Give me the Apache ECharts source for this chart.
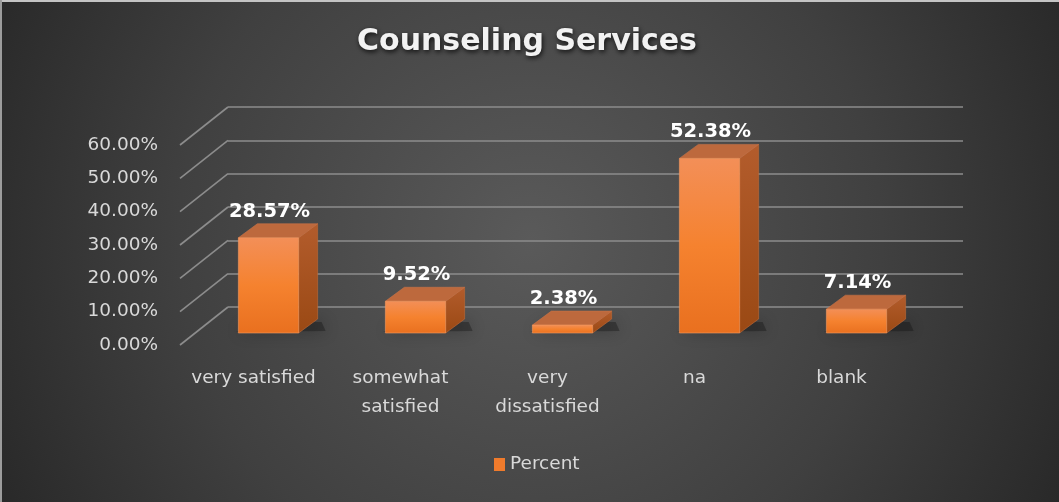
<!DOCTYPE html>
<html>
<head>
<meta charset="utf-8">
<script src="https://cdn.jsdelivr.net/npm/echarts@6/dist/echarts.min.js"></script>
<style>html,body{margin:0;padding:0;background:#2a2a2a;}#c{width:1059px;height:502px;}</style>
</head>
<body>
<div id="c"></div>
<script>
const categories = ['very satisfied', 'somewhat\nsatisfied', 'very\ndissatisfied', 'na', 'blank'];
const percentValues = [28.57, 9.52, 2.38, 52.38, 7.14];
const yTicks = [0, 10, 20, 30, 40, 50, 60];
const seriesName = 'Percent';
const titleText = 'Counseling Services';

const DX = 19, DY = -14;          // bar depth offset
const FDX = 48, FDY = -38;        // floor depth (front -> back)

const chart = echarts.init(document.getElementById('c'), null, {renderer: 'canvas'});

function lin(x0, y0, x1, y1, stops) {
  return new echarts.graphic.LinearGradient(x0, y0, x1, y1, stops);
}

function renderBar(params, api) {
  const i = api.value(0), v = api.value(1);
  const base = api.coord([i, 0]);
  const top = api.coord([i, v]);
  const band = api.size([1, 0])[0];
  const w = band * 0.41;
  const x0 = base[0] - w / 2, x1 = base[0] + w / 2, yb = base[1], yt = top[1];
  return {
    type: 'group',
    children: [
      {
        type: 'polygon',
        shape: {points: [[x0 - 2, yb - 1], [x1 + DX + 8, yb - 2], [x1 + DX + 4, yb + DY + 3], [x0 + DX, yb + DY + 3]]},
        style: {fill: 'rgba(15,15,15,0.35)', shadowBlur: 16, shadowColor: 'rgba(0,0,0,0.85)'}
      },
      {
        type: 'polygon',
        shape: {points: [[x1, yt], [x1 + DX, yt + DY], [x1 + DX, yb + DY], [x1, yb]]},
        style: {fill: lin(0, 0, 0, 1, [{offset: 0, color: '#b35c2c'}, {offset: 1, color: '#9a4914'}]), stroke: '#c06a38', lineWidth: 0.6}
      },
      {
        type: 'polygon',
        shape: {points: [[x0, yt], [x0 + DX, yt + DY], [x1 + DX, yt + DY], [x1, yt]]},
        style: {fill: '#bd693d', stroke: '#c97448', lineWidth: 0.6}
      },
      {
        type: 'rect',
        shape: {x: x0, y: yt, width: w, height: yb - yt},
        style: {fill: lin(0, 0, 0, 1, [{offset: 0, color: '#f38f58'}, {offset: 0.5, color: '#f5822f'}, {offset: 1, color: '#e9701f'}]), stroke: '#f49a62', lineWidth: 0.6}
      },
      {
        type: 'text',
        style: {
          x: base[0] + 1, y: yt + DY - 2,
          text: v.toFixed(2) + '%',
          align: 'center', verticalAlign: 'bottom',
          fill: '#ffffff',
          font: 'bold 19.5px "DejaVu Sans"'
        }
      }
    ]
  };
}

function renderDiag(params, api) {
  const v = api.value(1);
  const p = api.coord([0, v]);
  const band = api.size([1, 0])[0];
  const x = p[0] - band / 2;
  return {
    type: 'line',
    shape: {x1: x, y1: p[1], x2: x + FDX, y2: p[1] + FDY},
    style: {stroke: '#8c8c8c', lineWidth: 1.6}
  };
}

const hiddenAxis = {axisLine: {show: false}, axisTick: {show: false}, axisLabel: {show: false}, splitLine: {show: false}};

const option = {
  backgroundColor: {
    type: 'radial', x: 530, y: 240, r: 640, global: true,
    colorStops: [{offset: 0, color: '#5a5a5a'}, {offset: 0.55, color: '#404040'}, {offset: 1, color: '#242424'}]
  },
  animation: false,
  title: {
    text: titleText,
    left: 522, top: 22, textAlign: 'center',
    textStyle: {
      color: '#f2f2f2', fontFamily: 'DejaVu Sans', fontWeight: 'bold', fontSize: 30,
      textShadowColor: 'rgba(0,0,0,0.8)', textShadowBlur: 5, textShadowOffsetX: 1, textShadowOffsetY: 2
    }
  },
  legend: {
    left: 489, top: 450,
    itemWidth: 11, itemHeight: 13, itemGap: 6,
    data: [{name: seriesName, icon: 'rect'}],
    textStyle: {color: '#d9d9d9', fontFamily: 'DejaVu Sans', fontSize: 18.5}
  },
  grid: [
    {left: 195, top: 133, width: 735, height: 200},   // bar plane
    {left: 180, top: 145, width: 735, height: 200},   // front plane
    {left: 228, top: 107, width: 735, height: 200}    // back wall
  ],
  xAxis: [
    Object.assign({type: 'category', data: categories, gridIndex: 0}, hiddenAxis),
    {
      type: 'category', data: categories, gridIndex: 1,
      axisLine: {show: false}, axisTick: {show: false}, splitLine: {show: false},
      axisLabel: {color: '#d9d9d9', fontFamily: 'DejaVu Sans', fontSize: 18.5, margin: 19, lineHeight: 29, interval: 0}
    },
    Object.assign({type: 'category', data: categories, gridIndex: 2}, hiddenAxis)
  ],
  yAxis: [
    Object.assign({type: 'value', min: yTicks[0], max: yTicks[yTicks.length - 1], interval: 10, gridIndex: 0}, hiddenAxis),
    {
      type: 'value', min: yTicks[0], max: yTicks[yTicks.length - 1], interval: 10, gridIndex: 1,
      axisLine: {show: false}, axisTick: {show: false}, splitLine: {show: false},
      axisLabel: {color: '#d9d9d9', fontFamily: 'DejaVu Sans', fontSize: 18.5, margin: 22, formatter: v => v.toFixed(2) + '%'}
    },
    {
      type: 'value', min: yTicks[0], max: yTicks[yTicks.length - 1], interval: 10, gridIndex: 2,
      axisLine: {show: false}, axisTick: {show: false}, axisLabel: {show: false},
      splitLine: {show: true, lineStyle: {color: '#8c8c8c', width: 1.6}}
    }
  ],
  series: [
    {
      type: 'custom', name: '_diag', xAxisIndex: 1, yAxisIndex: 1, silent: true,
      renderItem: renderDiag,
      data: yTicks.map(t => [0, t]),
      z: 1
    },
    {
      type: 'custom', name: seriesName, xAxisIndex: 0, yAxisIndex: 0,
      itemStyle: {color: '#f07b2c'},
      renderItem: renderBar,
      encode: {x: 0, y: 1},
      data: percentValues.map((v, i) => [i, v]),
      z: 5
    }
  ],
  graphic: [
    {type: 'rect', shape: {x: 0, y: 0, width: 1059, height: 2}, style: {fill: '#c4c4c4'}, z: 100},
    {type: 'rect', shape: {x: 0, y: 0, width: 2, height: 502}, style: {fill: '#9c9c9c'}, z: 100}
  ]
};
chart.setOption(option);
</script>
</body>
</html>
